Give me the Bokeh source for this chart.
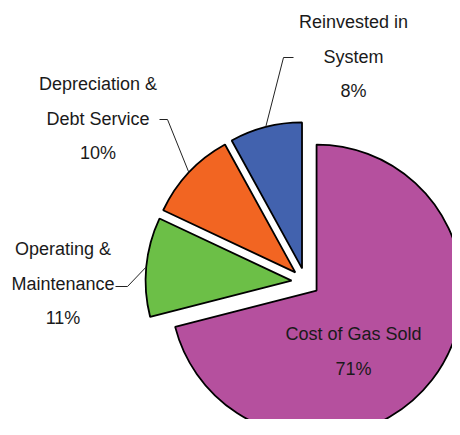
import math
from bokeh.plotting import figure
from bokeh.models import Range1d, ColumnDataSource
from bokeh.core.properties import value
from bokeh.embed import file_html
from bokeh.resources import INLINE

# ---- data ----
categories = ["Cost of Gas Sold", "Operating & Maintenance", "Depreciation & Debt Service", "Reinvested in System"]
shares = [71, 11, 10, 8]
label_lines = [
    ["Cost of Gas Sold", "71%"],
    ["Operating &", "Maintenance", "11%"],
    ["Depreciation &", "Debt Service", "10%"],
    ["Reinvested in", "System", "8%"],
]
colors = ["#B5509E", "#6CBF47", "#F26522", "#4262AE"]

# ---- layout (picture pixel coordinates, y down) ----
W, H = 452, 419
CX, CY = 305.0, 281.5
RADIUS = 146.0
EXPLODE = 14.0
LABEL_CENTERS = [(353, 351), (62.5, 283), (97.5, 118), (353, 56)]
LINE_SPACING = 34.5
LEADER = [None, [(127, 286), (115, 286)], [(167, 119), (159, 119)], [(283, 57), (293, 57)]]
FONT = "Liberation Sans"

p = figure(width=W, height=H, output_backend="svg", toolbar_location=None,
           x_range=Range1d(0, W), y_range=Range1d(-H, 0),
           min_border=0)
p.axis.visible = False
p.grid.visible = False
p.outline_line_color = None
p.background_fill_color = "white"

total = float(sum(shares))
cum = 0.0
xs, ys, starts, ends, mids = [], [], [], [], []
for v in shares:
    a0 = cum / total * 2 * math.pi
    a1 = (cum + v) / total * 2 * math.pi
    cum += v
    t0 = math.pi / 2 - a0
    t1 = math.pi / 2 - a1
    mid = (t0 + t1) / 2
    xs.append(CX + EXPLODE * math.cos(mid))
    ys.append(-CY + EXPLODE * math.sin(mid))
    starts.append(t1)
    ends.append(t0)
    mids.append(mid)

src = ColumnDataSource(dict(x=xs, y=ys, s=starts, e=ends, c=colors, name=categories))
p.wedge(x="x", y="y", radius=RADIUS, start_angle="s", end_angle="e", source=src,
        fill_color="c", line_color="black", line_width=1.8)

# leader lines
for i, leg in enumerate(LEADER):
    if leg is None:
        continue
    ax = xs[i] + RADIUS * math.cos(mids[i])
    ay = ys[i] + RADIUS * math.sin(mids[i])
    lx = [ax] + [pt[0] for pt in leg]
    ly = [ay] + [-pt[1] for pt in leg]
    p.line(lx, ly, line_color="#222222", line_width=1)

# labels
tx, ty, tt = [], [], []
for i, lines in enumerate(label_lines):
    cx, cy = LABEL_CENTERS[i]
    n = len(lines)
    for j, t in enumerate(lines):
        tx.append(cx)
        ty.append(-(cy + (j - (n - 1) / 2) * LINE_SPACING))
        tt.append(t)
p.text(x=tx, y=ty, text=tt, text_font=value(FONT), text_font_size="18px",
       text_align="center", text_baseline="middle", text_color="#1a1a1a")

open("out.html", "w").write(file_html(p, INLINE))
